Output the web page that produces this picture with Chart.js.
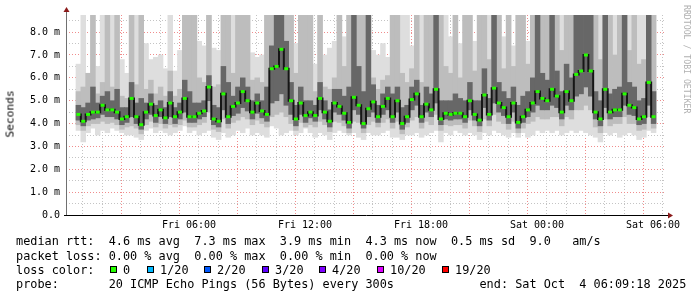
<!DOCTYPE html>
<html>
<head>
<meta charset="utf-8">
<script src="https://cdn.jsdelivr.net/npm/chart.js@4.4.1/dist/chart.umd.min.js"></script>
<style>
  html, body { margin: 0; padding: 0; background: #fff; }
  #wrap { position: relative; width: 697px; height: 297px; overflow: hidden; }
  #chart { position: absolute; left: 0; top: 0; }
  .row { position: absolute; left: 16px; font: 11.85px 'DejaVu Sans Mono', monospace; white-space: pre; color: #000; line-height: 14px; }
  .txt { position: absolute; font: 11.85px 'DejaVu Sans Mono', monospace; white-space: pre; color: #000; line-height: 14px; }
  .box { position: absolute; width: 5px; height: 5px; border: 1px solid #000; }
  #ytitle { position: absolute; left: 10px; top: 114px; font: 11.2px 'DejaVu Sans Mono', monospace; color: #000;
            transform: translate(-50%, -50%) rotate(-90deg); white-space: pre; }
  #credit { position: absolute; left: 682px; top: 5px; font: 8.2px 'DejaVu Sans Mono', monospace; color: #b0b0b0;
            writing-mode: vertical-rl; line-height: 10px; white-space: pre; }
</style>
</head>
<body>
<div id="wrap">
  <canvas id="chart" width="697" height="297"></canvas>
  <div id="ytitle">Seconds</div>
  <div id="credit">RRDTOOL / TOBI OETIKER</div>
  <div id="legend"></div>
</div>
<script>
// smokeping run: 20 pings every 300s, resampled to 15 min columns
const startHour = 0.155; // Fri 00:09:18
const stepHours = 0.25;
const endHour = 30.155;

const median = [
  4.4,4.1,4.4,4.5,4.5,4.8,4.6,4.6,4.5,4.2,4.3,5.1,4.3,3.95,4.5,4.85,4.35,4.6,4.25,4.9,4.3,4.5,5.1,4.3,
  4.3,4.45,4.55,5.6,4.2,4.1,5.3,4.3,4.75,4.9,5.4,5.0,4.5,4.9,4.55,4.4,6.4,6.5,7.25,6.4,5.0,4.2,4.9,4.35,
  4.5,4.35,5.1,4.5,4.1,4.9,4.75,4.45,4.05,5.15,4.8,4.0,4.65,4.95,4.3,4.75,5.1,4.3,5.0,4.0,4.3,5.05,5.3,4.3,
  4.85,4.6,5.5,4.2,4.45,4.4,4.45,4.45,4.3,5.0,4.4,4.15,5.25,4.4,5.55,4.9,4.7,4.3,4.9,4.05,4.3,4.6,4.9,5.4,
  5.1,5.0,5.5,5.2,4.5,5.4,5.0,6.15,6.3,7.0,6.3,4.5,4.2,5.5,4.5,4.6,4.6,5.3,4.8,4.7,4.2,4.3,5.8,4.3
];
const pingMin = [
  3.7,3.2,3.6,3.8,3.5,3.7,3.6,3.8,3.7,3.6,3.5,3.5,3.4,3.3,3.7,3.8,3.6,3.7,3.6,3.5,3.6,3.7,3.9,3.6,
  3.7,3.5,3.6,3.7,3.4,3.3,3.6,3.4,3.5,3.7,3.6,3.8,3.5,3.6,3.5,3.4,3.9,3.8,3.5,3.6,3.7,3.5,3.6,3.8,
  3.6,3.4,3.6,3.5,3.3,3.6,3.7,3.6,3.5,3.6,3.4,3.3,3.6,3.5,3.5,3.6,3.7,3.4,3.4,3.3,3.5,3.5,3.6,3.4,
  3.5,3.6,3.7,3.2,3.6,3.5,3.7,3.6,3.5,3.6,3.5,3.3,3.6,3.5,3.7,3.6,3.5,3.4,3.6,3.4,3.6,3.4,3.5,3.7,
  3.6,3.7,3.6,3.7,3.5,3.6,3.7,3.6,3.7,3.6,3.5,3.4,3.2,3.6,3.5,3.6,3.4,3.5,3.6,3.5,3.3,3.4,3.7,3.6
];
const pingMax = [
  6.6,8.8,6.2,8.8,6.5,8.8,8.8,8.8,8.8,6.8,6.2,8.8,8.8,8.8,7.5,6.8,6.9,7.0,6.4,8.8,6.3,7.2,8.8,8.8,
  8.8,7.6,7.4,8.8,7.3,7.2,8.8,8.8,8.8,8.8,8.8,8.8,7.1,6.9,7.0,8.8,8.8,8.8,8.8,8.8,8.8,7.5,8.8,8.8,
  8.8,6.6,8.8,7.0,7.3,7.6,8.8,7.8,8.8,8.8,8.8,8.8,8.8,7.2,7.0,7.5,6.9,8.8,8.8,8.8,8.8,7.4,8.8,8.8,
  8.8,8.8,8.8,8.8,8.8,7.8,8.8,7.5,8.8,8.8,7.6,8.8,8.8,8.8,8.8,8.8,7.8,8.8,7.4,8.8,8.8,7.6,8.8,8.8,
  8.8,8.8,8.8,8.8,8.8,8.8,8.8,8.8,8.8,8.8,8.8,8.8,8.8,8.8,8.8,8.8,8.8,8.8,8.8,8.8,8.8,8.8,8.8,8.8
];
const p10 = [
  3.95,3.7,3.9,4.0,4.0,4.1,4.0,4.05,3.95,3.75,3.85,3.9,3.8,3.55,3.95,4.1,3.85,4.0,3.8,3.95,3.85,3.95,4.15,3.85,
  3.85,3.95,4.05,4.5,3.75,3.65,4.2,3.8,4.05,4.15,4.3,4.2,3.95,4.15,4.0,3.85,4.3,4.4,4.5,4.3,4.0,3.7,4.05,3.85,
  3.95,3.85,4.1,3.95,3.65,4.1,4.05,3.9,3.6,4.1,4.05,3.6,3.95,4.1,3.85,4.05,4.2,3.8,4.1,3.55,3.85,4.15,4.3,3.8,
  4.1,3.95,4.4,3.7,3.95,3.9,3.95,3.95,3.8,4.15,3.9,3.65,4.2,3.9,4.4,4.1,4.0,3.75,4.1,3.6,3.8,4.0,4.1,4.3,
  4.2,4.2,4.3,4.3,3.9,4.3,4.2,4.6,4.6,4.8,4.6,3.85,3.6,4.2,3.9,4.0,4.0,4.3,4.0,4.0,3.7,3.75,4.3,3.8
];
const p90 = [
  5.4,5.6,6.2,8.8,5.3,5.8,8.8,5.6,8.8,5.2,5.1,8.8,5.7,8.8,5.5,5.9,5.3,5.6,5.2,6.3,5.2,5.5,8.8,8.8,
  8.8,6.0,5.8,8.8,5.6,5.7,8.8,8.8,6.2,8.8,8.8,8.8,5.9,6.0,5.8,8.8,8.8,8.8,8.8,8.8,8.8,6.2,8.8,8.8,
  8.8,5.4,8.8,5.6,5.5,6.0,8.8,6.5,8.8,8.8,8.8,8.8,8.8,6.0,5.5,5.9,6.1,8.8,8.8,6.2,5.8,6.4,8.8,5.8,
  8.8,8.8,8.8,8.8,6.5,6.2,8.8,6.0,8.8,8.8,6.3,8.8,8.8,6.8,8.8,8.8,6.4,8.8,6.5,8.8,8.8,6.6,8.8,8.8,
  8.8,8.8,8.8,8.8,7.2,8.8,8.8,8.8,8.8,8.8,8.8,8.8,6.8,8.8,8.8,7.0,8.8,8.8,7.2,8.8,6.6,6.8,8.8,8.8
];
const p25 = [
  4.15,3.9,4.15,4.2,4.25,4.4,4.3,4.3,4.2,3.95,4.05,4.3,4.0,3.75,4.2,4.4,4.05,4.3,4.0,4.3,4.0,4.2,4.5,4.05,
  4.05,4.2,4.3,5.0,3.95,3.85,4.6,4.0,4.35,4.45,4.7,4.55,4.2,4.45,4.25,4.1,4.9,5.0,5.3,4.8,4.4,3.9,4.4,4.05,
  4.25,4.1,4.6,4.2,3.85,4.5,4.4,4.15,3.8,4.6,4.4,3.8,4.3,4.5,4.05,4.4,4.6,4.05,4.5,3.75,4.05,4.6,4.8,4.05,
  4.5,4.3,4.9,3.95,4.2,4.15,4.2,4.2,4.05,4.6,4.15,3.9,4.7,4.15,4.9,4.5,4.35,4.0,4.5,3.8,4.05,4.3,4.5,4.8,
  4.6,4.6,4.8,4.7,4.2,4.8,4.6,5.2,5.3,5.6,5.2,4.2,3.9,4.7,4.2,4.3,4.3,4.8,4.4,4.35,3.95,4.0,4.8,4.0
];
const p75 = [
  4.8,4.7,4.9,5.6,4.9,5.2,5.4,5.0,5.5,4.7,4.7,5.8,4.9,5.1,4.9,5.3,4.8,5.0,4.7,5.4,4.7,4.9,5.9,5.4,
  4.9,4.9,5.0,6.1,4.8,4.7,6.5,5.8,5.2,5.6,6.0,5.6,5.0,5.3,5.0,5.6,7.4,8.8,8.8,7.6,5.8,4.8,5.6,5.0,
  5.0,4.8,5.8,5.0,4.6,5.5,5.5,5.2,5.6,8.8,6.5,5.4,8.8,5.7,4.8,5.3,5.6,5.3,5.6,4.7,4.8,5.6,5.9,4.8,
  5.6,5.3,8.8,5.0,5.0,5.0,5.3,5.1,5.0,5.8,5.0,5.0,6.4,5.1,8.8,5.8,5.4,5.1,5.6,4.8,5.2,5.4,6.0,8.8,
  6.2,5.9,8.8,6.3,5.4,6.6,6.0,8.8,8.8,8.8,8.8,5.4,5.0,8.8,5.3,5.5,5.6,8.8,5.8,5.6,5.0,5.1,8.8,5.4
];

const yTickLabels = ['0.0', '1.0 m', '2.0 m', '3.0 m', '4.0 m', '5.0 m', '6.0 m', '7.0 m', '8.0 m'];
const labelHours = [6, 12, 18, 24, 30];
const timeLabels = ['Fri 06:00', 'Fri 12:00', 'Fri 18:00', 'Sat 00:00', 'Sat 06:00'];

const legendRows = [
  'median rtt:  4.6 ms avg  7.3 ms max  3.9 ms min  4.3 ms now  0.5 ms sd  9.0   am/s',
  'packet loss: 0.00 % avg  0.00 % max  0.00 % min  0.00 % now',
  'loss color:',
  'probe:       20 ICMP Echo Pings (56 Bytes) every 300s            end: Sat Oct  4 06:09:18 2025'
];
const lossLabels = ['0', '1/20', '2/20', '3/20', '4/20', '10/20', '19/20'];
const lossColors = ['#26ff00', '#00b8ff', '#0059ff', '#5e00ff', '#7e00ff', '#dd00ff', '#ff0000'];

function band(lo, hi) {
  return lo.map((v, i) => ({ x: startHour + (i + 0.5) * stepHours, y: [v, hi[i]] }));
}
function points(list) {
  return list.map((v, i) => ({ x: startHour + (i + 0.5) * stepHours, y: v }));
}

function buildLegend() {
  const holder = document.querySelector('#legend');
  const tops = [234, 249, 263, 277];
  legendRows.forEach((text, i) => {
    const div = document.createElement('div');
    div.className = 'row';
    div.style.top = tops[i] + 'px';
    div.textContent = text;
    holder.appendChild(div);
  });
  const boxX = [110, 147, 204, 262, 319, 377, 442];
  lossLabels.forEach((lab, i) => {
    const box = document.createElement('div');
    box.className = 'box';
    box.style.left = boxX[i] + 'px';
    box.style.top = '266px';
    box.style.background = lossColors[i];
    holder.appendChild(box);
    const t = document.createElement('div');
    t.className = 'txt';
    t.style.left = (boxX[i] + 13) + 'px';
    t.style.top = '263px';
    t.textContent = lab;
    holder.appendChild(t);
  });
}

const axisDecor = {
  id: 'axisDecor',
  afterDraw(chart) {
    const { ctx, chartArea: a } = chart;
    ctx.save();
    ctx.lineWidth = 1;
    ctx.strokeStyle = '#707070';
    ctx.beginPath();
    ctx.moveTo(a.left + 0.5, a.bottom);
    ctx.lineTo(a.left + 0.5, a.top - 3);
    ctx.stroke();
    ctx.strokeStyle = '#000';
    ctx.beginPath();
    ctx.moveTo(a.left - 2, a.bottom + 0.5);
    ctx.lineTo(a.right + 3, a.bottom + 0.5);
    ctx.stroke();
    ctx.fillStyle = '#8b1a1a';
    ctx.beginPath();
    ctx.moveTo(a.left - 2.5, a.top - 3);
    ctx.lineTo(a.left + 3.5, a.top - 3);
    ctx.lineTo(a.left + 0.5, a.top - 8);
    ctx.closePath();
    ctx.fill();
    ctx.beginPath();
    ctx.moveTo(a.right + 2, a.bottom - 2.5);
    ctx.lineTo(a.right + 2, a.bottom + 3.5);
    ctx.lineTo(a.right + 7, a.bottom + 0.5);
    ctx.closePath();
    ctx.fill();
    ctx.restore();
  }
};

function makeChart() {
  const target = document.querySelector('#chart');
  const hourTicks = [];
  for (let h = 1; h <= 30; h++) hourTicks.push(h);
  const yTicks = [];
  for (let v = 0.5; v <= 8.5; v += 0.5) yTicks.push(v);

  const barCommon = { type: 'bar', grouped: false, barPercentage: 1, categoryPercentage: 1, borderWidth: 0 };

  return new Chart(target, {
    type: 'bar',
    data: {
      datasets: [
        { type: 'line', label: 'median', data: points(median), showLine: false, pointStyle: 'line',
          pointRadius: 2, pointBorderWidth: 3, pointBorderColor: '#26ff00', pointBackgroundColor: '#26ff00', order: 0 },
        { type: 'line', label: 'median path', data: points(median), stepped: 'middle', borderColor: '#161616',
          borderWidth: 2, pointRadius: 0, order: 1 },
        { ...barCommon, label: 'p25-p75', data: band(p25, p75), backgroundColor: '#676767', order: 2 },
        { ...barCommon, label: 'p10-p90', data: band(p10, p90), backgroundColor: '#bdbdbd', order: 3 },
        { ...barCommon, label: 'min-max', data: band(pingMin, pingMax), backgroundColor: '#dedede', order: 4 }
      ]
    },
    options: {
      responsive: false,
      animation: false,
      devicePixelRatio: 1,
      layout: { padding: { left: 0, right: 31, top: 15, bottom: 0 } },
      plugins: { legend: { display: false }, tooltip: { enabled: false } },
      scales: {
        x: {
          type: 'linear',
          min: startHour,
          max: endHour,
          z: 1,
          afterFit: (scale) => { scale.height = 82; },
          afterBuildTicks: (scale) => { scale.ticks = hourTicks.map((h) => ({ value: h })); },
          grid: {
            drawTicks: false,
            lineWidth: 1,
            color: (c) => (c.tick && c.tick.value % 3 === 0 ? '#f08c8c' : '#c4c4c4')
          },
          border: { display: false, dash: [1, 2] },
          ticks: {
            autoSkip: false,
            maxRotation: 0,
            padding: 4,
            color: '#000',
            font: { family: 'DejaVu Sans Mono', size: 10 },
            callback: (v) => {
              const k = labelHours.indexOf(v);
              return k >= 0 ? timeLabels[k] : '';
            }
          }
        },
        y: {
          min: 0,
          max: 8.75,
          z: 1,
          afterFit: (scale) => { scale.width = 66; },
          afterBuildTicks: (scale) => { scale.ticks = [0].concat(yTicks).map((v) => ({ value: v })); },
          grid: {
            drawTicks: false,
            lineWidth: 1,
            color: (c) => {
              if (!c.tick || c.tick.value === 0) return 'rgba(0,0,0,0)';
              return Number.isInteger(c.tick.value) ? '#f08c8c' : '#c4c4c4';
            }
          },
          border: { display: false, dash: [1, 2] },
          ticks: {
            autoSkip: false,
            padding: 6,
            color: '#000',
            font: { family: 'DejaVu Sans Mono', size: 10 },
            callback: (v) => (Number.isInteger(v) ? yTickLabels[v] : '')
          }
        }
      }
    },
    plugins: [axisDecor]
  });
}

document.addEventListener('DOMContentLoaded', () => {
  buildLegend();
  makeChart();
});
</script>
</body>
</html>
